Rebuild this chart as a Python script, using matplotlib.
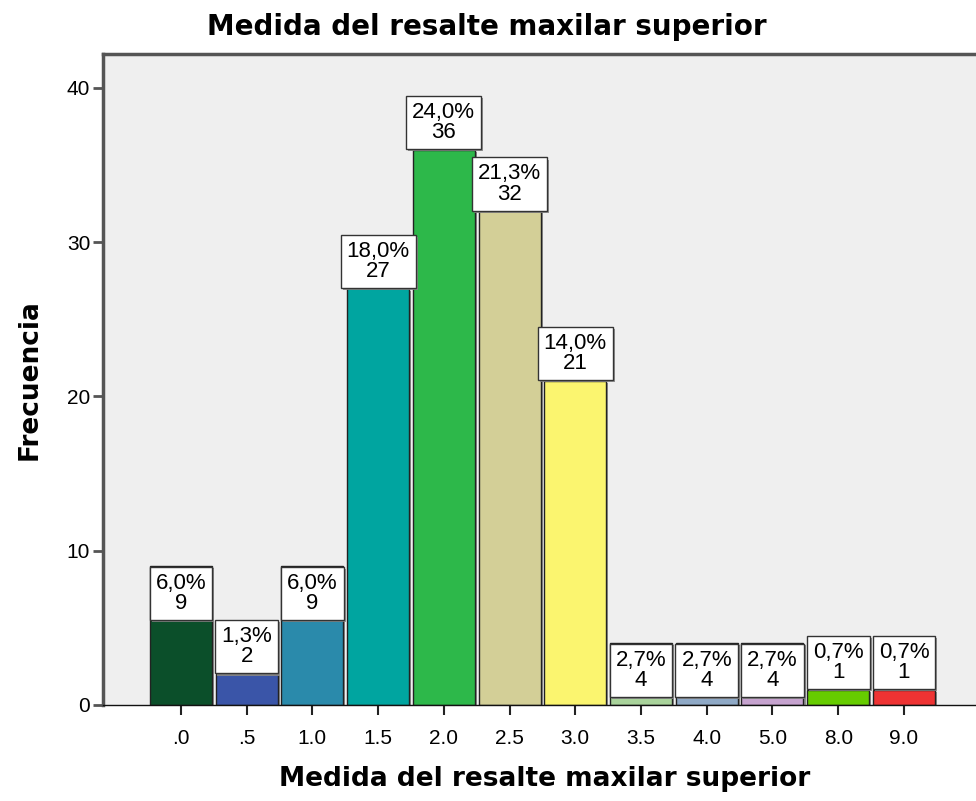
import matplotlib
matplotlib.use("Agg")
import matplotlib.pyplot as plt
import matplotlib.patheffects as pe

# data
categories = [".0", ".5", "1.0", "1.5", "2.0", "2.5", "3.0", "3.5", "4.0", "5.0", "8.0", "9.0"]
counts = [9, 2, 9, 27, 36, 32, 21, 4, 4, 4, 1, 1]
percents = ["6,0%", "1,3%", "6,0%", "18,0%", "24,0%", "21,3%", "14,0%",
            "2,7%", "2,7%", "2,7%", "0,7%", "0,7%"]
# where SPSS put the value box: inside the top of the bar or above it
label_inside = [True, False, True, False, False, False, False,
                True, True, True, False, False]
bar_colors = ["#0b4f2a", "#3a55a8", "#2a8aab", "#00a5a0", "#2db84a", "#d3cf97",
              "#fbf56f", "#a9d39b", "#8fa9c6", "#c6a3cf", "#66cc00", "#ee3333"]
y_ticks = [0, 10, 20, 30, 40]

fig = plt.figure(figsize=(9.76, 8.01), dpi=100)
W, H = 976, 801
ax = fig.add_axes([102.7 / W, (H - 705) / H, 886.7 / W, (705 - 54) / H])
ax.set_facecolor("#efefef")

xpos = list(range(len(categories)))
shadow = [pe.SimplePatchShadow(offset=(1.5, -1.5), shadow_rgbFace="#888888", alpha=0.9),
          pe.Normal()]
bars = ax.bar(xpos, counts, width=0.943, color=bar_colors, edgecolor="#222222",
              linewidth=1.0, zorder=2)
for b in bars:
    b.set_path_effects(shadow)

pad = 0.27
fs = 16
for x, c, p, inside in zip(xpos, counts, percents, label_inside):
    off = pad * fs + 0.5
    t = ax.annotate(f"{p}\n{c}", (x, c), xytext=(0, -off if inside else off),
                    textcoords="offset points", ha="center",
                    va="top" if inside else "bottom", fontsize=fs,
                    family="Liberation Sans", linespacing=0.95, zorder=4,
                    bbox=dict(boxstyle=f"square,pad={pad}", fc="white", ec="#333333", lw=1.0))
    t.get_bbox_patch().set_path_effects(shadow)

ax.set_xlim(-1.19, 12.3)
ax.set_ylim(0, 42.2)
ax.set_xticks(xpos)
ax.set_xticklabels(categories, family="Liberation Sans", fontsize=15)
ax.set_yticks(y_ticks)
ax.set_yticklabels([str(v) for v in y_ticks], family="Liberation Sans", fontsize=15)
ax.tick_params(axis="x", direction="out", length=7, width=1.5, color="#222222", pad=10)
ax.tick_params(axis="y", direction="out", length=7, width=2, color="#555555", pad=2)

ax.spines["right"].set_visible(False)
ax.spines["left"].set_color("#555555")
ax.spines["left"].set_linewidth(2.5)
ax.spines["top"].set_color("#555555")
ax.spines["top"].set_linewidth(2.5)
ax.spines["bottom"].set_color("#111111")
ax.spines["bottom"].set_linewidth(1.0)

fig.text(487 / W, 1 - 27 / H, "Medida del resalte maxilar superior", ha="center",
         va="center", fontsize=20, fontweight="bold", family="DejaVu Sans")
fig.text(545 / W, 1 - 779 / H, "Medida del resalte maxilar superior", ha="center",
         va="center", fontsize=19, fontweight="bold", family="DejaVu Sans")
fig.text(30 / W, 1 - 380 / H, "Frecuencia", ha="center", va="center", rotation=90,
         fontsize=19, fontweight="bold", family="DejaVu Sans")

fig.savefig("out.png", dpi=100, facecolor="white")
